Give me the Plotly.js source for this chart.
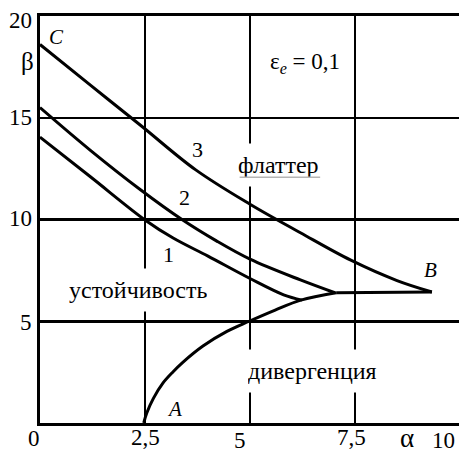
<!DOCTYPE html>
<html>
<head>
<meta charset="utf-8">
<script src="https://cdn.plot.ly/plotly-3.0.1.min.js"></script>
<style>
  html, body { margin: 0; padding: 0; background: #fff; overflow: hidden; }
</style>
</head>
<body>
<div id="chart"></div>
<script>
// Stability boundaries beta(alpha) for eps_e = 0.1
// Curve 3: flutter boundary C -> B
const alpha3 = [0, 1.2, 2.4, 3.7, 5.0, 6.2, 7.4, 8.5, 9.33];
const beta3  = [18.6, 16.6, 14.62, 12.45, 10.75, 9.35, 8.0, 7.0, 6.44];

// Curve 2
const alpha2 = [0, 1.2, 2.4, 3.38, 4.2, 5.0, 6.2, 7.02];
const beta2  = [15.5, 13.4, 11.45, 10.0, 8.95, 8.05, 7.03, 6.4];

// Curve 1
const alpha1 = [0, 1.2, 2.5, 3.17, 4.0, 5.0, 5.8, 6.24];
const beta1  = [14.05, 12.1, 9.98, 9.09, 8.2, 7.1, 6.3, 6.04];

// Divergence boundary A
const alphaA = [2.47, 2.54, 2.7, 2.93, 3.17, 3.4, 3.88, 4.45, 4.98, 5.6, 6.21, 7.05];
const betaA  = [0, 0.48, 1.21, 1.97, 2.52, 2.98, 3.78, 4.5, 5.0, 5.55, 6.04, 6.4];

// Common branch up to point B
const alphaB = [7.05, 9.33];
const betaB  = [6.4, 6.44];

// Tick labels
const xTickVals = [0, 2.5, 5, 7.5];
const xTickText = ['0', '2,5', '5', '7,5'];
const xEndText = '10';
const yTickVals = [5, 10, 15, 20];
const yTickText = ['5', '10', '15', '20'];

// label nudges (pixels)
const xTickShift = [[-6, -15], [0, -14], [-10, -17], [-4, -14]];
const yTickShift = [-1, 1, 0, -4];

const FONT = 'Times New Roman';
function txt(size) { return { family: FONT, size: size, color: '#000' }; }
// every label is wrapped so its glyphs come from the serif face
function serif(s) { return '<span style="font-family:Liberation Serif">' + s + '</span>'; }

const line = { color: '#000', width: 3 };
const curve = { shape: 'spline', smoothing: 1.0, color: '#000', width: 3 };

const traces = [
  { x: alpha3, y: beta3, mode: 'lines', line: curve },
  { x: alpha2, y: beta2, mode: 'lines', line: curve },
  { x: alpha1, y: beta1, mode: 'lines', line: curve },
  { x: alphaA, y: betaA, mode: 'lines', line: curve },
  { x: alphaB, y: betaB, mode: 'lines', line: line }
];

const annotations = [];

xTickVals.forEach((v, i) => {
  annotations.push({
    x: v, xref: 'x', y: 0, yref: 'paper',
    text: serif(xTickText[i]), showarrow: false,
    xanchor: 'center', yanchor: 'middle',
    xshift: xTickShift[i][0], yshift: xTickShift[i][1],
    font: txt(23)
  });
});
annotations.push({
  x: 1, xref: 'paper', y: 0, yref: 'paper',
  text: serif(xEndText), showarrow: false,
  xanchor: 'right', yanchor: 'middle', xshift: -2, yshift: -17,
  font: txt(23)
});

yTickVals.forEach((v, i) => {
  annotations.push({
    x: 0, xref: 'paper', y: v, yref: 'y',
    text: serif(yTickText[i]), showarrow: false,
    xanchor: 'right', yanchor: 'middle',
    xshift: -6, yshift: yTickShift[i],
    font: txt(23)
  });
});

function label(x, y, text, opts) {
  annotations.push(Object.assign({
    x: x, y: y, xref: 'x', yref: 'y', text: serif(text), showarrow: false,
    xanchor: 'center', yanchor: 'middle', font: txt(22)
  }, opts || {}));
}

// axis symbols
label(-0.031, 0.887, 'β', { xref: 'paper', yref: 'paper', font: txt(25) });
label(0.876, -0.037, 'α', { xref: 'paper', yref: 'paper', font: txt(27) });

// curve numbers and end points
label(3.76, 13.42, '3');
label(3.43, 11.06, '2');
label(3.07, 8.26, '1');
label(0.40, 18.97, '<i>C</i>', { font: txt(21) });
label(9.29, 7.52, '<i>B</i>', { font: txt(21) });
label(3.21, 0.69, '<i>A</i>', { font: txt(21) });

// parameter
label(6.31, 17.69, 'ε<sub><i>e</i></sub> = 0,1', { font: txt(23) });

// region names (white boxes break the grid lines)
const flutterPos = [5.69, 12.68];
label(flutterPos[0], flutterPos[1], 'флаттер', { bgcolor: '#fff', height: 42, borderpad: 0, font: txt(24) });
label(2.33, 6.54, 'устойчивость', { bgcolor: '#fff', height: 42, borderpad: 0, font: txt(24) });
label(6.48, 2.56, 'дивергенция', { bgcolor: '#fff', height: 42, borderpad: 0, font: txt(24) });

// thin grey underline below "флаттер"
annotations.push({
  x: flutterPos[0] + 0.98, y: flutterPos[1] - 0.6, xref: 'x', yref: 'y',
  text: '', showarrow: true, arrowhead: 0, arrowwidth: 1.5, arrowcolor: '#b5b5b5',
  ax: -82, ay: 0, standoff: 0, startstandoff: 0
});

const layout = {
  width: 459, height: 450,
  margin: { l: 40, r: 0, t: 16, b: 27 },
  paper_bgcolor: '#fff', plot_bgcolor: '#fff',
  showlegend: false,
  xaxis: {
    range: [0, 9.976], tickvals: [2.5, 5, 7.5], showticklabels: false, ticks: '',
    showgrid: true, gridcolor: '#000', gridwidth: 2.5, zeroline: false,
    showline: true, linecolor: '#000', linewidth: 3, mirror: true, fixedrange: true
  },
  yaxis: {
    range: [0, 20], tickvals: [5, 10, 15], showticklabels: false, ticks: '',
    showgrid: true, gridcolor: '#000', gridwidth: 2.5, zeroline: false,
    showline: true, linecolor: '#000', linewidth: 3, mirror: false, fixedrange: true
  },
  annotations: annotations
};

Plotly.newPlot('chart', traces, layout, { staticPlot: true, displayModeBar: false });
</script>
</body>
</html>
